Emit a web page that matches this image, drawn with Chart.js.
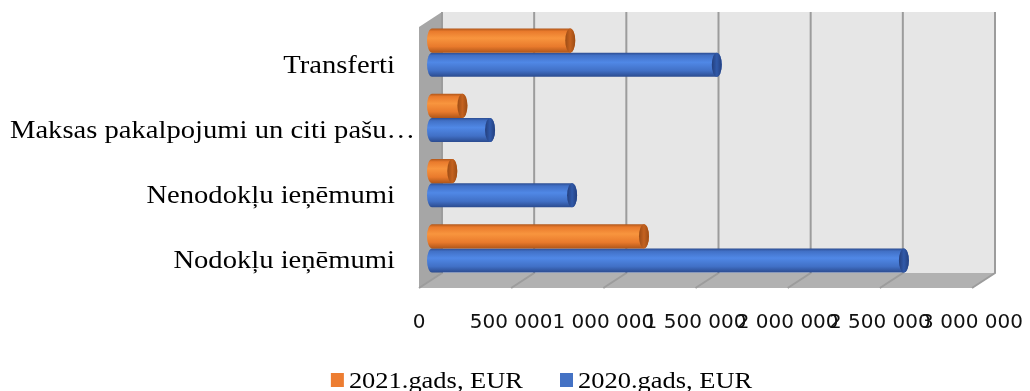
<!DOCTYPE html>
<html>
<head>
<meta charset="utf-8">
<script src="https://cdn.jsdelivr.net/npm/chart.js@4"></script>
<style>
  html, body { margin: 0; background: #fff; }
  #wrap { width: 1030px; height: 391px; }
</style>
</head>
<body>
<div id="wrap"><canvas id="chart"></canvas></div>
<script>
// Data
const categories = ['Transferti', 'Maksas pakalpojumi un citi pašu…', 'Nenodokļu ieņēmumi', 'Nodokļu ieņēmumi'];
const seriesNames = ['2021.gads, EUR', '2020.gads, EUR'];
const values2021 = [750000, 165000, 110000, 1150000];
const values2020 = [1545000, 315000, 760000, 2560000];
const xTicks = [0, 500000, 1000000, 1500000, 2000000, 2500000, 3000000];

// 3D box offsets relative to the plane the bars sit in
const BACK = { x: 10, y: -8 };
const FRONT = { x: -13, y: 7 };

const cylColors = [
  { dark: '#b0561a', mid: '#e97a2c', light: '#f8953e', cap: '#c4621f', capDark: '#9c4c15' },
  { dark: '#2b4b8f', mid: '#4170c6', light: '#5088e6', cap: '#3059a9', capDark: '#243f7d' }
];

const fmt = v => String(v).replace(/\B(?=(\d{3})+(?!\d))/g, ' ');

function stretchedText(ctx, text, x, y, sx, align) {
  ctx.save();
  ctx.translate(x, y);
  ctx.scale(sx, 1);
  ctx.textAlign = align;
  ctx.fillText(text, 0, 0);
  ctx.restore();
}

function poly(ctx, pts, fill) {
  ctx.beginPath();
  pts.forEach(([px, py], i) => i ? ctx.lineTo(px, py) : ctx.moveTo(px, py));
  ctx.closePath();
  ctx.fillStyle = fill;
  ctx.fill();
}

function drawCylinder(ctx, bar, c) {
  const { x, y, base, height } = bar.getProps(['x', 'y', 'base', 'height'], true);
  const ry = height / 2, rx = 5, top = y - ry, bot = y + ry;
  const g = ctx.createLinearGradient(0, top, 0, bot);
  g.addColorStop(0, c.dark);
  g.addColorStop(0.12, c.mid);
  g.addColorStop(0.4, c.light);
  g.addColorStop(0.75, c.mid);
  g.addColorStop(1, c.dark);
  ctx.beginPath();
  ctx.moveTo(base, top);
  ctx.lineTo(x, top);
  ctx.ellipse(x, y, rx, ry, 0, -Math.PI / 2, Math.PI / 2);
  ctx.lineTo(base, bot);
  ctx.ellipse(base, y, rx, ry, 0, Math.PI / 2, Math.PI * 1.5);
  ctx.closePath();
  ctx.fillStyle = g;
  ctx.fill();
  // end cap
  const cg = ctx.createLinearGradient(x - rx, 0, x + rx, 0);
  cg.addColorStop(0, c.capDark);
  cg.addColorStop(0.5, c.cap);
  cg.addColorStop(1, c.capDark);
  ctx.beginPath();
  ctx.ellipse(x, y, rx, ry, 0, 0, Math.PI * 2);
  ctx.fillStyle = cg;
  ctx.fill();
}

const box3d = {
  id: 'box3d',
  beforeDatasetsDraw(chart) {
    const { ctx, chartArea: a, scales: { x } } = chart;
    const bl = a.left + BACK.x, br = a.right + BACK.x;
    const bt = a.top + BACK.y, bb = a.bottom + BACK.y;
    const fl = a.left + FRONT.x, fr = a.right + FRONT.x;
    const ft = a.top + FRONT.y, fb = a.bottom + FRONT.y;
    ctx.save();
    ctx.fillStyle = '#e6e6e6';
    ctx.fillRect(bl, bt, br - bl, bb - bt);
    poly(ctx, [[fl, ft], [bl, bt], [bl, bb], [fl, fb]], '#a6a6a6');
    poly(ctx, [[fl, fb], [bl, bb], [br, bb], [fr, fb]], '#b1b1b1');
    ctx.strokeStyle = '#9c9c9c';
    ctx.lineWidth = 2;
    xTicks.forEach(v => {
      const px = x.getPixelForValue(v);
      ctx.beginPath();
      ctx.moveTo(px + BACK.x, bt);
      ctx.lineTo(px + BACK.x, bb);
      ctx.lineTo(px + FRONT.x, fb);
      ctx.stroke();
    });
    ctx.restore();
  },
  beforeDatasetDraw(chart, args) {
    const ctx = chart.ctx;
    ctx.save();
    args.meta.data.forEach(bar => drawCylinder(ctx, bar, cylColors[args.index]));
    ctx.restore();
    return false;
  },
  afterDraw(chart) {
    const { ctx, scales: { y } } = chart;
    ctx.save();
    ctx.fillStyle = '#000';
    ctx.textBaseline = 'alphabetic';
    // category labels, overflowing ones start at the left edge
    ctx.font = '26px "Liberation Serif"';
    categories.forEach((label, i) => {
      const w = ctx.measureText(label).width * 1.1;
      const cy = y.getPixelForValue(i) + 20;
      if (395 - w < 10) stretchedText(ctx, label, 10, cy, 1.1, 'left');
      else stretchedText(ctx, label, 395, cy, 1.1, 'right');
    });
    // legend
    ctx.font = '23px "Liberation Serif"';
    const items = chart.data.datasets.map(ds => ({ text: ds.label, color: ds.backgroundColor, w: ctx.measureText(ds.label).width * 1.15 }));
    const total = items.reduce((s, it) => s + 18 + it.w, 0) + 37 * (items.length - 1);
    let lx = 541.5 - total / 2;
    items.forEach(it => {
      ctx.fillStyle = it.color;
      ctx.fillRect(lx, 373, 13, 14);
      ctx.fillStyle = '#000';
      stretchedText(ctx, it.text, lx + 18, 388, 1.15, 'left');
      lx += 18 + it.w + 37;
    });
    ctx.restore();
  }
};

new Chart(document.getElementById('chart'), {
  type: 'bar',
  data: {
    labels: categories,
    datasets: [
      { label: seriesNames[0], data: values2021, backgroundColor: '#ed7d31', categoryPercentage: 0.74, barPercentage: 1 },
      { label: seriesNames[1], data: values2020, backgroundColor: '#4472c4', categoryPercentage: 0.74, barPercentage: 1 }
    ]
  },
  options: {
    indexAxis: 'y',
    responsive: true,
    maintainAspectRatio: false,
    animation: false,
    layout: { padding: { left: 432, right: 45, top: 20, bottom: 57 } },
    scales: {
      x: {
        min: xTicks[0],
        max: xTicks[xTicks.length - 1],
        grid: { display: false },
        border: { display: false },
        ticks: {
          stepSize: xTicks[1] - xTicks[0],
          autoSkip: false,
          maxRotation: 0,
          minRotation: 0,
          padding: 22,
          labelOffset: FRONT.x,
          color: '#111',
          font: { family: 'DejaVu Sans', size: 20 },
          callback: v => fmt(v)
        },
        afterFit(scale) {
          scale.height = 53;
          scale.paddingLeft = 0;
          scale.paddingRight = 0;
        }
      },
      y: { display: false }
    },
    plugins: { legend: { display: false }, tooltip: { enabled: false } }
  },
  plugins: [box3d]
});
</script>
</body>
</html>
